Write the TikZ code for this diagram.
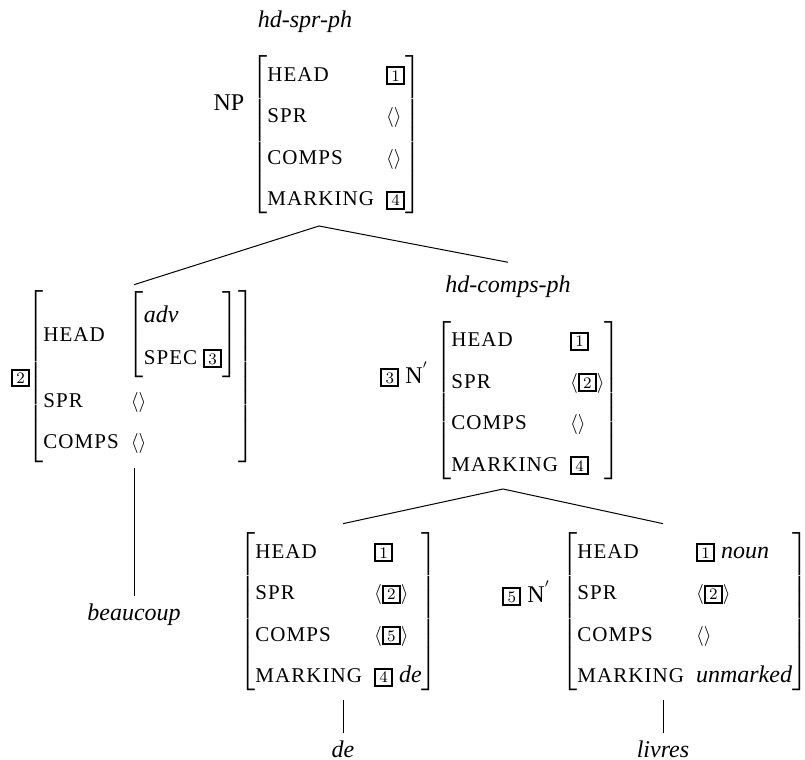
\documentclass[tikz,border=0pt]{standalone}
\usepackage{amsmath}
\usepackage{fontspec}
\setmainfont{Liberation Serif}
\newfontfamily\featfont[LetterSpace=5]{Liberation Serif}
\newcommand{\feat}[1]{{\featfont\fontsize{10.5}{12}\selectfont #1}}
\newcommand{\tagbox}[1]{{\setlength{\fboxsep}{1pt}\setlength{\fboxrule}{1pt}\fbox{\fontfamily{lmr}\fontsize{8}{8}\selectfont\makebox[5.5pt]{#1}}}}
\newcommand{\elist}[1]{{\fontsize{10}{12}\selectfont$\langle$#1$\rangle$}}
\newcommand{\avm}[2][6pt]{$\left[\begin{tabular}{@{}l@{\hspace{#1}}l@{}}#2\end{tabular}\right]$}
\renewcommand{\arraystretch}{1.44}

\begin{document}
\begin{tikzpicture}[x=0.5pt, y=-0.5pt, font=\fontsize{12}{14.4}\selectfont]
  \tikzset{avm/.style={anchor=west, inner sep=0pt},
    phrase/.style={anchor=base, font=\fontsize{12}{14.4}\selectfont\itshape},
    branch/.style={line width=0.5pt}}
  \useasboundingbox (0,0) rectangle (805,760);
  % top
  \node[phrase] (spr-lbl) at (305,27) {hd-spr-ph};
  \node[anchor=base] (np-lbl) at (229,111) {NP};
  \node[avm] (np) at (251,135) {\avm{%
    \feat{HEAD} & \tagbox{1}\\
    \feat{SPR} & \elist{}\\
    \feat{COMPS} & \elist{}\\
    \feat{MARKING} & \tagbox{4}}};
  % specifier
  \node (adv-tag) at (20.5,378) {\tagbox{2}};
  \node[avm] (adv) at (27,376.5) {\avm{%
    \feat{HEAD} & \hspace{-1.5pt}\avm[3pt]{\textit{adv} & \\ \feat{SPEC} & \tagbox{3}}\hspace{-2.5pt}\\[5pt]
    \feat{SPR} & \elist{}\\
    \feat{COMPS} & \elist{}}};
  \node[phrase] (beau) at (134,620) {beaucoup};
  % head daughter
  \node[phrase] (comps-lbl) at (508,292) {hd-comps-ph};
  \node[anchor=base west, inner sep=0pt] (nbar-lbl) at (380,383) {\tagbox{3}~N$^{'}$};
  \node[avm] (nbar) at (435,400.5) {\avm{%
    \feat{HEAD} & \tagbox{1}\\
    \feat{SPR} & \elist{\tagbox{2}}\\
    \feat{COMPS} & \elist{}\\
    \feat{MARKING} & \tagbox{4}}};
  \node[avm] (de) at (239,612) {\avm{%
    \feat{HEAD} & \tagbox{1}\\
    \feat{SPR} & \elist{\tagbox{2}}\\
    \feat{COMPS} & \elist{\tagbox{5}}\\
    \feat{MARKING} & \tagbox{4} \textit{de}}};
  \node[phrase] (de-w) at (343,757) {de};
  \node[anchor=base west, inner sep=0pt] (noun-lbl) at (502,602) {\tagbox{5}~N$^{'}$};
  \node[avm] (noun) at (561,612) {\avm{%
    \feat{HEAD} & \tagbox{1} \textit{noun}\\
    \feat{SPR} & \elist{\tagbox{2}}\\
    \feat{COMPS} & \elist{}\\
    \feat{MARKING} & \textit{unmarked}}};
  \node[phrase] (livres) at (663,757) {livres};
  % branches
  \coordinate (np-root) at (319,226);
  \coordinate (nbar-root) at (503,489);
  \draw[branch] ([yshift=2.5pt]beau.north |- adv.north) -- (np-root) -- ([yshift=3pt]comps-lbl.north);
  \draw[branch] ([yshift=2.5pt]de-w.north |- de.north) -- (nbar-root) -- ([yshift=2.5pt]livres.north |- noun.north);
  \draw[branch] ([yshift=-2.5pt]beau.north |- adv.south) -- (beau.north);
  \draw[branch] ([yshift=-2.5pt]de-w.north |- de.south) -- (de-w.north);
  \draw[branch] ([yshift=-2.5pt]livres.north |- noun.south) -- (livres.north);
\end{tikzpicture}
\end{document}
